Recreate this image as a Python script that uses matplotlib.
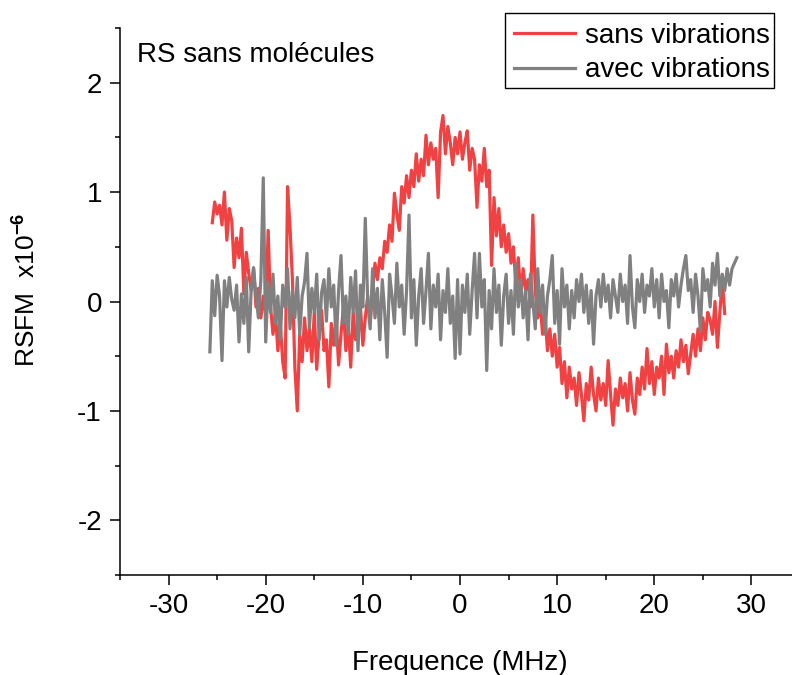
import numpy as np
import matplotlib
matplotlib.use("Agg")
import matplotlib.pyplot as plt
from matplotlib.patches import Rectangle

plt.rcParams['font.family'] = ['Liberation Sans', 'DejaVu Sans']
plt.rcParams['axes.unicode_minus'] = False
plt.rcParams['mathtext.fontset'] = 'custom'
plt.rcParams['mathtext.rm'] = 'Liberation Sans'
plt.rcParams['mathtext.bf'] = 'Liberation Sans:bold'

# red sweep: -25.5 .. 27.25 MHz, step 0.25
red_start, red_stop = -25.5, 27.25
red_y = [
    0.72, 0.91, 0.80, 0.88, 0.70, 1.00, 0.56, 0.85, 0.74, 0.31,
    0.58, 0.40, 0.67, 0.07, 0.45, 0.26, 0.10, 0.30, -0.05, 0.12,
    -0.15, 0.05, -0.12, 0.65, -0.05, -0.30, -0.10, -0.45, -0.20, -0.55,
    -0.70, 1.05, 0.68, 0.20, -0.60, -1.00, -0.30, -0.55, -0.15, -0.45,
    -0.25, -0.55, -0.10, -0.62, -0.30, -0.08, -0.45, -0.35, -0.78, -0.20,
    -0.40, -0.15, -0.58, -0.30, -0.05, -0.45, -0.22, -0.60, -0.10, -0.35,
    -0.33, -0.05, -0.40, -0.15, 0.05, -0.20, 0.10, 0.35, 0.20, 0.40,
    0.30, 0.55, 0.45, 0.70, 0.55, 0.99, 0.80, 0.65, 1.05, 0.90,
    1.15, 0.95, 1.20, 1.05, 1.35, 1.10, 1.30, 1.15, 1.52, 1.25,
    1.45, 1.30, 1.40, 0.95, 1.55, 1.70, 1.35, 1.60, 1.45, 1.25,
    1.50, 1.35, 1.55, 1.30, 1.45, 1.56, 1.20, 1.40, 1.30, 0.86,
    1.25, 1.10, 1.40, 1.05, 1.20, 0.33, 0.95, 0.60, 0.85, 0.50,
    0.70, 0.45, 0.62, 0.35, 0.50, 0.15, 0.40, 0.05, 0.30, 0.10,
    0.20, -0.05, 0.79, 0.10, -0.15, 0.00, -0.30, -0.10, -0.45, -0.25,
    -0.50, -0.30, -0.60, -0.42, -0.75, -0.55, -0.88, -0.60, -0.80, -0.70,
    -0.95, -0.65, -0.85, -1.09, -0.75, -0.90, -0.60, -0.85, -1.00, -0.70,
    -0.90, -0.75, -0.95, -0.54, -0.85, -1.13, -0.80, -0.95, -0.70, -0.88,
    -0.75, -1.00, -0.65, -0.90, -1.03, -0.70, -0.85, -0.60, -0.80, -0.43,
    -0.75, -0.55, -0.85, -0.60, -0.70, -0.50, -0.85, -0.39, -0.65, -0.50,
    -0.70, -0.45, -0.60, -0.35, -0.55, -0.40, -0.66, -0.48, -0.30, -0.50,
    -0.25, -0.45, -0.15, -0.35, -0.10, -0.17, -0.30, 0.00, -0.42, -0.10,
    0.19, -0.11,
]

# grey sweep: -25.75 .. 28.5 MHz, step 0.25
grey_start, grey_stop = -25.75, 28.5
grey_y = [
    -0.46, 0.19, -0.13, 0.24, 0.05, -0.54, 0.19, -0.05, 0.22, 0.02,
    -0.08, 0.15, -0.37, 0.07, -0.20, 0.22, -0.46, 0.10, 0.31, 0.05,
    -0.15, 0.20, 1.13, -0.37, 0.18, -0.10, 0.25, -0.20, 0.05, -0.35,
    0.15, -0.05, 0.30, -0.25, 0.10, -0.15, 0.22, -0.30, 0.05, 0.18,
    0.44, -0.24, 0.12, -0.10, 0.25, -0.35, 0.08, 0.20, -0.18, 0.30,
    -0.05, 0.15, -0.40, 0.10, 0.42, -0.20, 0.05, -0.30, 0.22, -0.10,
    0.28, -0.45, 0.15, -0.05, 0.76, 0.00, -0.25, 0.30, -0.15, 0.12,
    -0.35, 0.20, -0.10, -0.51, 0.25, 0.05, -0.20, 0.35, -0.05, 0.15,
    -0.30, 0.10, 0.79, -0.15, 0.20, -0.40, 0.05, 0.30, -0.20, 0.10,
    0.44, -0.25, 0.15, -0.05, 0.25, -0.35, 0.10, -0.10, 0.30, -0.20,
    0.05, -0.52, 0.20, -0.48, 0.15, -0.10, 0.25, -0.30, 0.10, 0.44,
    -0.15, 0.44, -0.05, 0.20, -0.63, 0.10, -0.25, 0.30, -0.10, 0.15,
    -0.40, 0.05, 0.25, -0.20, 0.10, -0.30, 0.35, -0.05, 0.20, -0.15,
    0.10, -0.35, 0.25, 0.00, -0.25, 0.30, -0.10, 0.15, -0.30, 0.05,
    0.20, 0.42, -0.20, 0.10, -0.39, 0.30, -0.05, 0.15, -0.25, 0.10,
    -0.15, 0.20, 0.00, 0.25, -0.10, 0.15, -0.20, 0.10, -0.39, 0.05,
    0.20, -0.05, 0.25, 0.00, 0.15, -0.15, 0.20, 0.05, -0.10, 0.25,
    0.00, 0.15, -0.20, 0.42, -0.05, -0.24, 0.20, 0.00, 0.25, -0.10,
    0.15, 0.05, 0.30, -0.05, 0.20, -0.15, 0.25, 0.00, 0.10, -0.24,
    0.20, 0.05, 0.25, -0.05, 0.15, 0.30, 0.42, 0.10, 0.20, -0.10,
    0.25, 0.05, -0.27, 0.30, 0.10, 0.20, -0.05, 0.35, 0.15, 0.44,
    0.05, 0.25, 0.10, 0.30, 0.15, 0.30, 0.35, 0.40,
]

red_x = np.linspace(red_start, red_stop, len(red_y))
grey_x = np.linspace(grey_start, grey_stop, len(grey_y))

fig = plt.figure(figsize=(7.92, 6.75), dpi=100)
ax = fig.add_axes([120 / 792, 100 / 675, 680 / 792, 547 / 675])

ax.plot(red_x, red_y, color='#F04242', lw=2.3, label='sans vibrations')
ax.plot(grey_x, grey_y, color='#808080', lw=2.3, label='avec vibrations')

ax.set_xlim(-35, 35)
ax.set_ylim(-2.5, 2.5)
ax.set_xticks([-30, -20, -10, 0, 10, 20, 30])
ax.set_xticks(np.arange(-35, 36, 10), minor=True)
ax.set_yticks([-2, -1, 0, 1, 2])
ax.set_yticks([-2.5, -1.5, -0.5, 0.5, 1.5, 2.5], minor=True)

for s in ['top', 'right']:
    ax.spines[s].set_visible(False)
for s in ['left', 'bottom']:
    ax.spines[s].set_linewidth(1.1)

ax.tick_params(which='major', direction='out', length=7, width=1.1, labelsize=20, pad=6)
ax.tick_params(which='minor', direction='out', length=3.5, width=1.1)

ax.set_xlabel('Frequence (MHz)', fontsize=20, labelpad=22)
ax.set_ylabel(r'RSFM  x10$^{\mathbf{-6}}$', fontsize=19)
ax.yaxis.set_label_coords(-0.118, 0.521)

ax.text(0.025, 0.950, 'RS sans molécules', transform=ax.transAxes,
        fontsize=20, va='center', ha='left')

# legend box (drawn separately so its padding matches the original)
fig.legend(loc='upper right', bbox_to_anchor=(770 / 792, 1 - 23 / 675),
           fontsize=20, frameon=False, labelspacing=0.3,
           handlelength=2.2, handletextpad=0.35, borderaxespad=0, borderpad=0)
fig.patches.append(Rectangle((505 / 792, 1 - 88 / 675), 269 / 792, 75 / 675,
                             transform=fig.transFigure, fill=False,
                             edgecolor='black', lw=1.0))

fig.savefig('out.png', dpi=100)
